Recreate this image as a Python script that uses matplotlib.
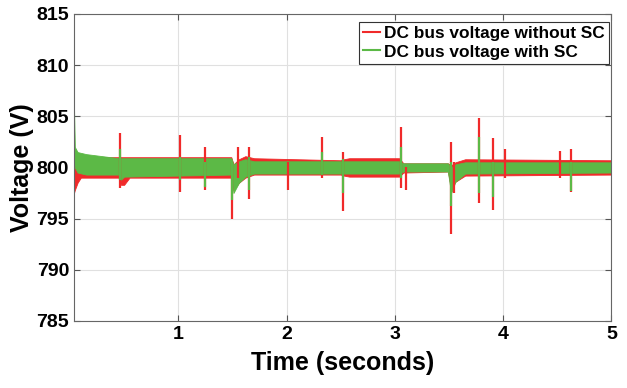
import matplotlib.pyplot as plt
from matplotlib.lines import Line2D

plt.rcParams['font.family'] = ['Liberation Sans', 'DejaVu Sans']
plt.rcParams['font.weight'] = 'bold'

# band envelope of the DC bus voltage without SC (red)
t_red = [0.037, 0.045, 0.07, 0.10, 0.45, 0.47, 0.50, 0.55, 1.49, 1.51, 1.56, 1.62, 1.70,
         2.50, 2.53, 2.58, 3.04, 3.08, 3.49, 3.52, 3.56, 3.65, 5.0]
lo_red = [797.5, 797.8, 798.5, 799.0, 799.0, 798.3, 798.3, 799.0, 799.0, 797.8, 798.5, 799.0, 799.3,
          799.3, 799.2, 799.1, 799.1, 799.5, 799.6, 798.0, 798.6, 799.2, 799.3]
hi_red = [800.8, 801.0, 801.0, 801.0, 801.0, 801.0, 801.0, 801.0, 801.0, 800.3, 800.8, 801.1, 800.9,
          800.7, 800.8, 800.9, 800.9, 800.4, 800.4, 800.2, 800.5, 800.8, 800.7]

# band envelope of the DC bus voltage with SC (green)
t_grn = [0.037, 0.045, 0.07, 0.15, 0.45, 0.47, 0.50, 1.49, 1.51, 1.56, 1.62, 1.70,
         2.50, 2.53, 3.04, 3.08, 3.49, 3.52, 3.56, 3.65, 5.0]
lo_grn = [800.5, 800.0, 799.5, 799.3, 799.3, 798.8, 799.1, 799.3, 797.5, 798.5, 799.1, 799.4,
          799.4, 799.4, 799.4, 799.6, 799.6, 797.5, 798.6, 799.4, 799.5]
hi_grn = [806.0, 802.0, 801.5, 801.3, 800.9, 800.9, 800.9, 800.9, 800.3, 800.6, 800.8, 800.6,
          800.6, 800.6, 800.6, 800.4, 800.4, 800.0, 800.3, 800.5, 800.5]

# transient spikes (time, min, max)
spk_red_t = [0.46, 1.02, 1.25, 1.50, 1.55, 1.65, 2.01, 2.33, 2.52, 3.06, 3.10, 3.52, 3.55, 3.78, 3.91, 4.02, 4.53, 4.63]
spk_red_lo = [798.0, 797.6, 797.8, 795.0, 799.0, 796.9, 797.8, 799.0, 795.7, 798.0, 797.8, 793.5, 797.5, 796.5, 795.8, 799.0, 799.0, 797.6]
spk_red_hi = [803.4, 803.2, 802.0, 800.5, 802.0, 802.0, 800.5, 803.0, 801.5, 804.0, 800.0, 802.5, 800.5, 804.8, 802.9, 801.8, 801.6, 801.8]

spk_grn_t = [0.46, 1.02, 1.25, 1.50, 1.65, 2.33, 2.52, 3.06, 3.52, 3.78, 3.91, 4.63]
spk_grn_lo = [798.8, 798.8, 798.1, 796.8, 797.8, 799.3, 797.5, 799.0, 796.2, 797.5, 797.1, 797.7]
spk_grn_hi = [801.8, 801.0, 800.5, 800.5, 801.0, 801.5, 800.8, 802.0, 800.5, 803.0, 800.5, 800.5]

red = '#f02a2a'
green = '#5cb946'

fig = plt.figure(figsize=(6.27, 3.88), dpi=100)
ax = fig.add_axes([0.118, 0.173, 0.857, 0.791])

ax.fill_between(t_red, lo_red, hi_red, color=red, lw=0.6)
ax.vlines(spk_red_t, spk_red_lo, spk_red_hi, color=red, lw=1.6)
ax.fill_between(t_grn, lo_grn, hi_grn, color=green, lw=0.6)
ax.vlines(spk_grn_t, spk_grn_lo, spk_grn_hi, color=green, lw=1.6)

ax.set_xlim(0.037, 5)
ax.set_ylim(785, 815)
ax.set_xticks([1, 2, 3, 4, 5])
ax.set_yticks([785, 790, 795, 800, 805, 810, 815])
ax.grid(True, color='#e0e0e0', lw=0.8)
ax.set_axisbelow(True)
ax.tick_params(direction='in', top=True, right=True, labelsize=14, color='#555555', length=4)
for s in ax.spines.values():
    s.set_color('#666666')

ax.set_xlabel('Time (seconds)', fontsize=18, fontweight='bold', labelpad=6)
ax.set_ylabel('Voltage (V)', fontsize=18, fontweight='bold', labelpad=2)

handles = [Line2D([], [], color=red, lw=1.5), Line2D([], [], color=green, lw=1.5)]
leg = ax.legend(handles, ['DC bus voltage without SC', 'DC bus voltage with SC'],
                loc='upper right', bbox_to_anchor=(0.995, 0.975), fontsize=12.4,
                handlelength=1.0, handletextpad=0.2, borderpad=0.25, labelspacing=0.2,
                fancybox=False, framealpha=1, borderaxespad=0)
leg.get_frame().set_edgecolor('#333333')
leg.get_frame().set_linewidth(0.8)

fig.savefig('out.png', dpi=100)
